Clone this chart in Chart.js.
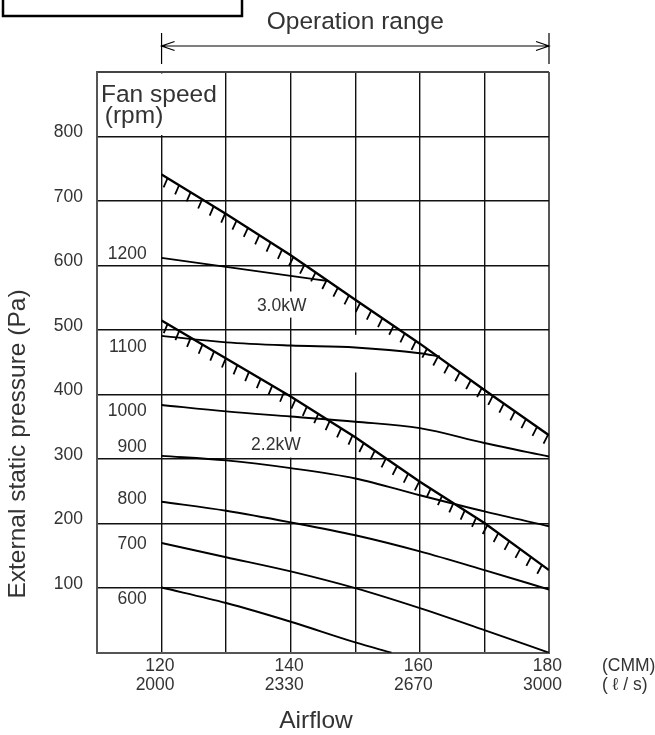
<!DOCTYPE html>
<html>
<head>
<meta charset="utf-8">
<script src="https://cdn.jsdelivr.net/npm/chart.js@4.4.1/dist/chart.umd.min.js"></script>
<style>
  html, body { margin: 0; padding: 0; background: #fff; }
  #wrap { width: 655px; height: 735px; position: relative; }
</style>
</head>
<body>
<div id="wrap"><canvas id="fanChart"></canvas></div>
<script>
// airflow ticks: CMM on top line, l/s underneath
const cmmTicks = [120, 140, 160, 180];
const lpsTicks = [2000, 2330, 2670, 3000];
const paTicks = [100, 200, 300, 400, 500, 600, 700, 800];

// fan curves: airflow (CMM) -> external static pressure (Pa)
const flowFull = [120, 130, 140, 150, 160, 170, 180];
const flow1200 = [120, 130, 140, 145.8];
const pa1200 = [612, 598, 584, 576];
const flow1100 = [120, 130, 140, 150, 160, 163.1];
const pa1100 = [491, 481, 476, 473, 464, 459];
const pa1000 = [384, 374, 366, 358, 348, 325, 304];
const pa900 = [305, 298, 286, 270, 244, 219, 196];
const pa800 = [234, 220, 202, 182, 157, 128, 98];
const pa700 = [170, 148, 126, 100, 69, 35, 0];
const flow600 = [120, 130, 140, 150, 155.6];
const pa600 = [101, 77, 48, 16, 0];

// motor output limits
const pa30kW = [741, 680, 616, 547, 479, 407, 337];
const pa22kW = [515, 456, 397, 334, 265, 201, 128];

const fanSpeeds = ['1200', '1100', '1000', '900', '800', '700', '600'];

const FONT = '"Liberation Sans", Arial, sans-serif';
Chart.defaults.font.family = FONT;
Chart.defaults.color = '#333';

const pts = (xs, ys) => xs.map((x, i) => ({ x, y: ys[i] }));
const curve = (data) => ({
  data, borderColor: '#000', borderWidth: 1.9, pointRadius: 0,
  cubicInterpolationMode: 'monotone', fill: false
});
const limit = (data) => ({
  data, borderColor: '#000', borderWidth: 2.4, pointRadius: 0,
  tension: 0, fill: false, hatched: true
});

// where the fan speed captions sit (Pa, at their right edge)
const speedLabelPa = [618, 473, 375, 319, 238, 168, 83];
const speedLabelCmm = 117.7;

// pieces of vertical grid left open around captions
const gridGaps = [
  { cmm: 120, from: 800, to: 900 },
  { cmm: 140, from: 517, to: 562 },
  { cmm: 140, from: 300, to: 345 },
  { cmm: 150, from: 432, to: 495 }
];

const gapPlugin = {
  id: 'gaps',
  beforeDatasetsDraw(chart) {
    const { ctx, scales: { x, y } } = chart;
    ctx.save();
    ctx.fillStyle = '#fff';
    gridGaps.forEach(g => {
      const px = x.getPixelForValue(g.cmm);
      const top = y.getPixelForValue(g.to) + 1.5;
      const bottom = y.getPixelForValue(g.from) - 1.5;
      ctx.fillRect(px - 2.5, top, 5, bottom - top);
    });
    ctx.restore();
  }
};

// short ticks under the limit lines, leaning a little toward vertical
const hatchPlugin = {
  id: 'hatch',
  afterDatasetsDraw(chart) {
    const ctx = chart.ctx;
    const lean = 8 * Math.PI / 180;
    chart.data.datasets.forEach((ds, i) => {
      if (!ds.hatched) return;
      const p = chart.getDatasetMeta(i).data.map(e => ({ x: e.x, y: e.y }));
      const step = 13.5, len = 10;
      let next = 7, acc = 0;
      ctx.save();
      ctx.strokeStyle = '#000';
      ctx.lineWidth = 1.8;
      ctx.beginPath();
      for (let k = 0; k < p.length - 1; k++) {
        const dx = p[k + 1].x - p[k].x, dy = p[k + 1].y - p[k].y;
        const seg = Math.hypot(dx, dy);
        const ux = dx / seg, uy = dy / seg;
        // normal pointing below the line, turned by `lean`
        const nx0 = -uy, ny0 = ux;
        const nx = nx0 * Math.cos(lean) + ny0 * Math.sin(lean);
        const ny = -nx0 * Math.sin(lean) + ny0 * Math.cos(lean);
        while (next <= acc + seg) {
          const t = next - acc;
          const hx = p[k].x + ux * t, hy = p[k].y + uy * t;
          ctx.moveTo(hx, hy);
          ctx.lineTo(hx + nx * len, hy + ny * len);
          next += step;
        }
        acc += seg;
      }
      ctx.stroke();
      ctx.restore();
    });
  }
};

const notesPlugin = {
  id: 'notes',
  afterDraw(chart) {
    const { ctx, chartArea: area, scales: { x, y } } = chart;
    ctx.save();
    ctx.fillStyle = '#333';
    ctx.strokeStyle = '#000';

    // fan speed captions
    ctx.font = '17.5px ' + FONT;
    ctx.textAlign = 'right';
    ctx.textBaseline = 'middle';
    fanSpeeds.forEach((s, i) => {
      ctx.fillText(s, x.getPixelForValue(speedLabelCmm), y.getPixelForValue(speedLabelPa[i]));
    });

    // motor output captions
    ctx.textAlign = 'center';
    ctx.fillText('3.0kW', x.getPixelForValue(138.6), y.getPixelForValue(537));
    ctx.fillText('2.2kW', x.getPixelForValue(137.7), y.getPixelForValue(322));

    // corner caption
    ctx.font = '24.5px ' + FONT;
    ctx.textAlign = 'left';
    ctx.textBaseline = 'alphabetic';
    ctx.fillText('Fan speed', area.left + 4, area.top + 30);
    ctx.fillText(' (rpm)', area.left + 1, area.top + 51);

    // operation range arrow
    const xa = x.getPixelForValue(120), xb = x.getPixelForValue(180);
    const ay = 46;
    ctx.lineWidth = 1.2;
    ctx.beginPath();
    ctx.moveTo(xa, 33); ctx.lineTo(xa, 64);
    ctx.moveTo(xb, 33); ctx.lineTo(xb, 64);
    ctx.moveTo(xa, ay); ctx.lineTo(xb, ay);
    ctx.moveTo(xa + 13, ay - 4.5); ctx.lineTo(xa, ay); ctx.lineTo(xa + 13, ay + 4.5);
    ctx.moveTo(xb - 13, ay - 4.5); ctx.lineTo(xb, ay); ctx.lineTo(xb - 13, ay + 4.5);
    ctx.stroke();
    ctx.font = '24.5px ' + FONT;
    ctx.textAlign = 'center';
    ctx.fillText('Operation range', x.getPixelForValue(150), 29);

    // boxed note, mostly above the page edge
    ctx.lineWidth = 2.5;
    ctx.strokeRect(3, -30, 239, 46);

    // units beside the airflow ticks
    ctx.font = '17.5px ' + FONT;
    ctx.textAlign = 'left';
    ctx.textBaseline = 'middle';
    ctx.fillText('(CMM)', 602, 666);
    ctx.fillText('( \u2113 / s)', 602, 685);

    // axis titles
    ctx.font = '24.5px ' + FONT;
    ctx.textAlign = 'center';
    ctx.fillText('Airflow', 316, 721);
    ctx.translate(18, 444);
    ctx.rotate(-Math.PI / 2);
    ctx.fillText('External static pressure (Pa)', 0, 0);
    ctx.restore();
  }
};

const frameX = v => v === 110 || v === 180;
const frameY = v => v === 0 || v === 900;

new Chart(document.getElementById('fanChart'), {
  type: 'line',
  data: {
    datasets: [
      curve(pts(flow1200, pa1200)),
      curve(pts(flow1100, pa1100)),
      curve(pts(flowFull, pa1000)),
      curve(pts(flowFull, pa900)),
      curve(pts(flowFull, pa800)),
      curve(pts(flowFull, pa700)),
      curve(pts(flow600, pa600)),
      limit(pts(flowFull, pa30kW)),
      limit(pts(flowFull, pa22kW))
    ]
  },
  options: {
    responsive: true,
    maintainAspectRatio: false,
    animation: false,
    layout: { padding: { top: 72, right: 106, bottom: 32.3, left: 0 } },
    plugins: { legend: { display: false }, tooltip: { enabled: false } },
    scales: {
      x: {
        type: 'linear',
        min: 110,
        max: 180,
        afterFit: s => { s.height = 50; },
        grid: {
          drawTicks: false,
          color: c => frameX(c.tick.value) ? '#555' : '#111',
          lineWidth: c => frameX(c.tick.value) ? 2 : 1.4
        },
        border: { color: '#555', width: 2 },
        ticks: {
          stepSize: 10,
          autoSkip: false,
          maxRotation: 0,
          minRotation: 0,
          align: 'end',
          labelOffset: 13,
          padding: 3.5,
          color: '#333',
          font: { size: 17.5, lineHeight: 1.1 },
          callback: v => {
            const i = cmmTicks.indexOf(v);
            return i < 0 ? '' : [String(cmmTicks[i]), String(lpsTicks[i])];
          }
        }
      },
      y: {
        type: 'linear',
        min: 0,
        max: 900,
        afterFit: s => { s.width = 97; },
        grid: {
          drawTicks: false,
          color: c => frameY(c.tick.value) ? '#444' : '#111',
          lineWidth: c => frameY(c.tick.value) ? 2 : 1.4
        },
        border: { color: '#555', width: 2 },
        ticks: {
          stepSize: 100,
          padding: 14,
          labelOffset: -4,
          color: '#333',
          font: { size: 17.5 },
          callback: v => paTicks.includes(v) ? String(v) : ''
        }
      }
    }
  },
  plugins: [gapPlugin, hatchPlugin, notesPlugin]
});
</script>
</body>
</html>
